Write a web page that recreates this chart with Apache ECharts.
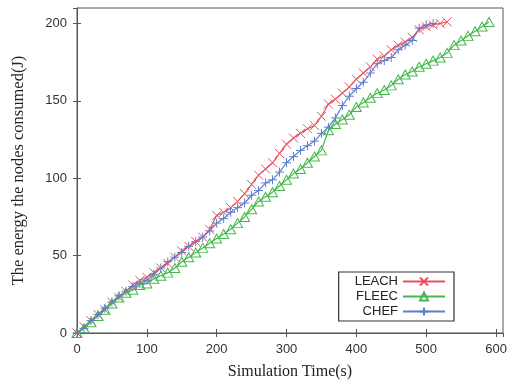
<!DOCTYPE html>
<html>
<head>
<meta charset="utf-8">
<script src="https://cdn.jsdelivr.net/npm/echarts@6/dist/echarts.min.js"></script>
<style>html,body{margin:0;padding:0;background:#fff;}#c{width:507px;height:380px;}</style>
</head>
<body>
<div id="c"></div>
<script>
const seriesNames = ['LEACH', 'FLEEC', 'CHEF'];
const xTickLabels = ['0', '100', '200', '300', '400', '500', '600'];
const yTickLabels = ['0', '50', '100', '150', '200'];
const step = 10;
const leach = [0,4,8,12,15,20,23,27,31,34,36,39,42,45,49,53,56,59,62,67,76,78,81,85,90,96,102,106,110,116,122,126,129,132,134,140,148,151,155,159,164,168,172,177,179,183,186,188,191,196,198,199,200,201];
const fleec = [0,3,7,11,15,19,23,26,28,31,32,35,37,39,42,46,49,52,55,58,61,64,67,71,75,80,85,88,91,95,99,103,106,110,114,118,131,135,138,141,146,149,152,155,157,160,164,167,169,172,174,176,178,181,186,189,192,195,198,201];
const chef = [0,3,8,12,16,20,24,27,30,32,34,38,42,46,49,52,56,59,62,66,71,74,78,81,84,89,92,97,99,104,110,114,118,121,124,129,133,139,147,153,158,162,168,174,176,178,183,186,189,197,199,200];

function pairs(arr){ return arr.map((v,i)=>[i*step, v]); }

const colors = ['#e8505c', '#44b84c', '#5b80d2'];
const symX = 'path://M0,0L10,10M10,0L0,10';
const symPlus = 'path://M5,0L5,10M0,5L10,5';

const chart = echarts.init(document.getElementById('c'), null, {renderer:'canvas'});
const tickFont = {fontFamily:'Liberation Sans', fontSize:13, color:'#333'};
const axisLineStyle = {color:'#555', width:1};
chart.setOption({
  animation:false,
  backgroundColor:'#fff',
  grid:{left:77, right:4, top:8, bottom:47, show:true, borderColor:'#555', borderWidth:1, containLabel:false, outerBoundsMode:'none'},
  legend:{
    data:seriesNames, orient:'vertical', right:53, bottom:59, align:'right',
    itemWidth:42, itemHeight:10, itemGap:2,
    padding:[3,8,3,16], borderColor:'#333', borderWidth:1.2, backgroundColor:'#fff',
    textStyle:{fontFamily:'Liberation Sans', fontSize:13, color:'#222', width:56, align:'right'}
  },
  xAxis:[{
    type:'value', min:0, max:610, interval:100, position:'bottom',
    name:'Simulation Time(s)', nameLocation:'middle', nameGap:31,
    nameTextStyle:{fontFamily:'Liberation Serif', fontSize:16, color:'#222'},
    axisLine:{show:true, lineStyle:axisLineStyle},
    axisTick:{show:true, inside:true, length:4, lineStyle:axisLineStyle},
    axisLabel:Object.assign({margin:10, showMaxLabel:false, formatter:(v)=>xTickLabels.includes(String(v))?String(v):''}, tickFont),
    splitLine:{show:false}
  },{
    type:'value', min:0, max:610, interval:100, position:'top',
    axisLine:{show:false}, axisTick:{show:true, inside:true, length:4, lineStyle:axisLineStyle},
    axisLabel:{show:false}, splitLine:{show:false}
  }],
  yAxis:[{
    type:'value', min:0, max:210, interval:50, position:'left',
    name:'The energy the nodes consumed(J)', nameLocation:'middle', nameGap:50,
    nameTextStyle:{fontFamily:'Liberation Serif', fontSize:16.5, color:'#222'},
    axisLine:{show:true, lineStyle:axisLineStyle},
    axisTick:{show:true, inside:true, length:4, lineStyle:axisLineStyle},
    axisLabel:Object.assign({margin:10, showMaxLabel:false, formatter:(v)=>yTickLabels.includes(String(v))?String(v):''}, tickFont),
    splitLine:{show:false}
  },{
    type:'value', min:0, max:210, interval:50, position:'right',
    axisLine:{show:false}, axisTick:{show:true, inside:true, length:4, lineStyle:axisLineStyle},
    axisLabel:{show:false}, splitLine:{show:false}
  }],
  series:[
    {name:'LEACH', type:'line', data:pairs(leach), symbol:symX, symbolSize:9, showAllSymbol:true,
     lineStyle:{color:colors[0], width:1.2}, itemStyle:{color:'rgba(0,0,0,0)', borderColor:colors[0], borderWidth:1}},
    {name:'FLEEC', type:'line', data:pairs(fleec), symbol:'triangle', symbolSize:[10,9], showAllSymbol:true,
     lineStyle:{color:colors[1], width:1.2}, itemStyle:{color:'rgba(0,0,0,0)', borderColor:colors[1], borderWidth:1}},
    {name:'CHEF', type:'line', data:pairs(chef), symbol:symPlus, symbolSize:9, showAllSymbol:true,
     lineStyle:{color:colors[2], width:1.2}, itemStyle:{color:'rgba(0,0,0,0)', borderColor:colors[2], borderWidth:1}}
  ]
});
</script>
</body>
</html>
